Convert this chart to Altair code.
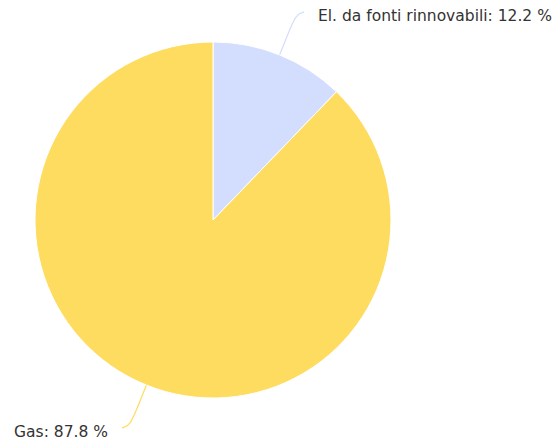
import math
import altair as alt
import pandas as pd

categories = ["El. da fonti rinnovabili", "Gas"]
shares = [12.2, 87.8]
colors = ["#d3ddfe", "#fedc5f"]

# layout (pixels inside the chart area)
CX, CY, R = 205, 212, 178

df = pd.DataFrame({"cat": categories, "share": shares, "order": [0, 1]})

# connector geometry derived from slice mid-angles
total = sum(shares)
rows, lab = [], []
cum = 0.0
for c, s in zip(categories, shares):
    mid = (cum + s / 2) / total * 2 * math.pi
    cum += s
    sx, sy = math.sin(mid), -math.cos(mid)
    side = 1 if sx >= 0 else -1
    pts = []
    for rr in [R, R + 22, R + 44]:
        pts.append((CX + sx * rr, CY + sy * rr))
    ex, ey = pts[-1][0] + side * 8, pts[-1][1] + (-2 if sy < 0 else 2)
    pts.append((ex, ey))
    for i, (px, py) in enumerate(pts):
        rows.append({"cat": c, "i": i, "px": px, "py": py})
    lab.append({"cat": c, "label": f"{c}: {s} %", "lx": ex + side * 14, "ly": ey + 4,
                "align": "left" if side > 0 else "right"})
conn = pd.DataFrame(rows)
labs = pd.DataFrame(lab)

color_scale = alt.Scale(domain=categories, range=colors)

pie = alt.Chart(df).mark_arc(stroke="white", strokeWidth=1, outerRadius=R).encode(
    theta=alt.Theta("share:Q", stack=True),
    color=alt.Color("cat:N", scale=color_scale, legend=None),
    order=alt.Order("order:Q"),
    x=alt.value(CX), y=alt.value(CY),
)

lines = alt.Chart(conn).mark_line(interpolate="basis", strokeWidth=1.2).encode(
    x=alt.X("px:Q", scale=None),
    y=alt.Y("py:Q", scale=None),
    color=alt.Color("cat:N", scale=color_scale, legend=None),
    order="i:Q",
    detail="cat:N",
)

font_kw = dict(baseline="middle", font="DejaVu Sans", fontSize=15.5, color="#333333")
text_r = alt.Chart(labs[labs["align"] == "left"]).mark_text(align="left", **font_kw).encode(
    x=alt.X("lx:Q", scale=None), y=alt.Y("ly:Q", scale=None), text="label:N")
text_l = alt.Chart(labs[labs["align"] == "right"]).mark_text(align="right", **font_kw).encode(
    x=alt.X("lx:Q", scale=None), y=alt.Y("ly:Q", scale=None), text="label:N")

chart = alt.layer(lines, pie, text_r, text_l).properties(
    width=544, height=435, padding=0, autosize="none"
).configure_view(stroke=None)

chart.save("out.html", embed_options={"renderer": "svg", "actions": False})
